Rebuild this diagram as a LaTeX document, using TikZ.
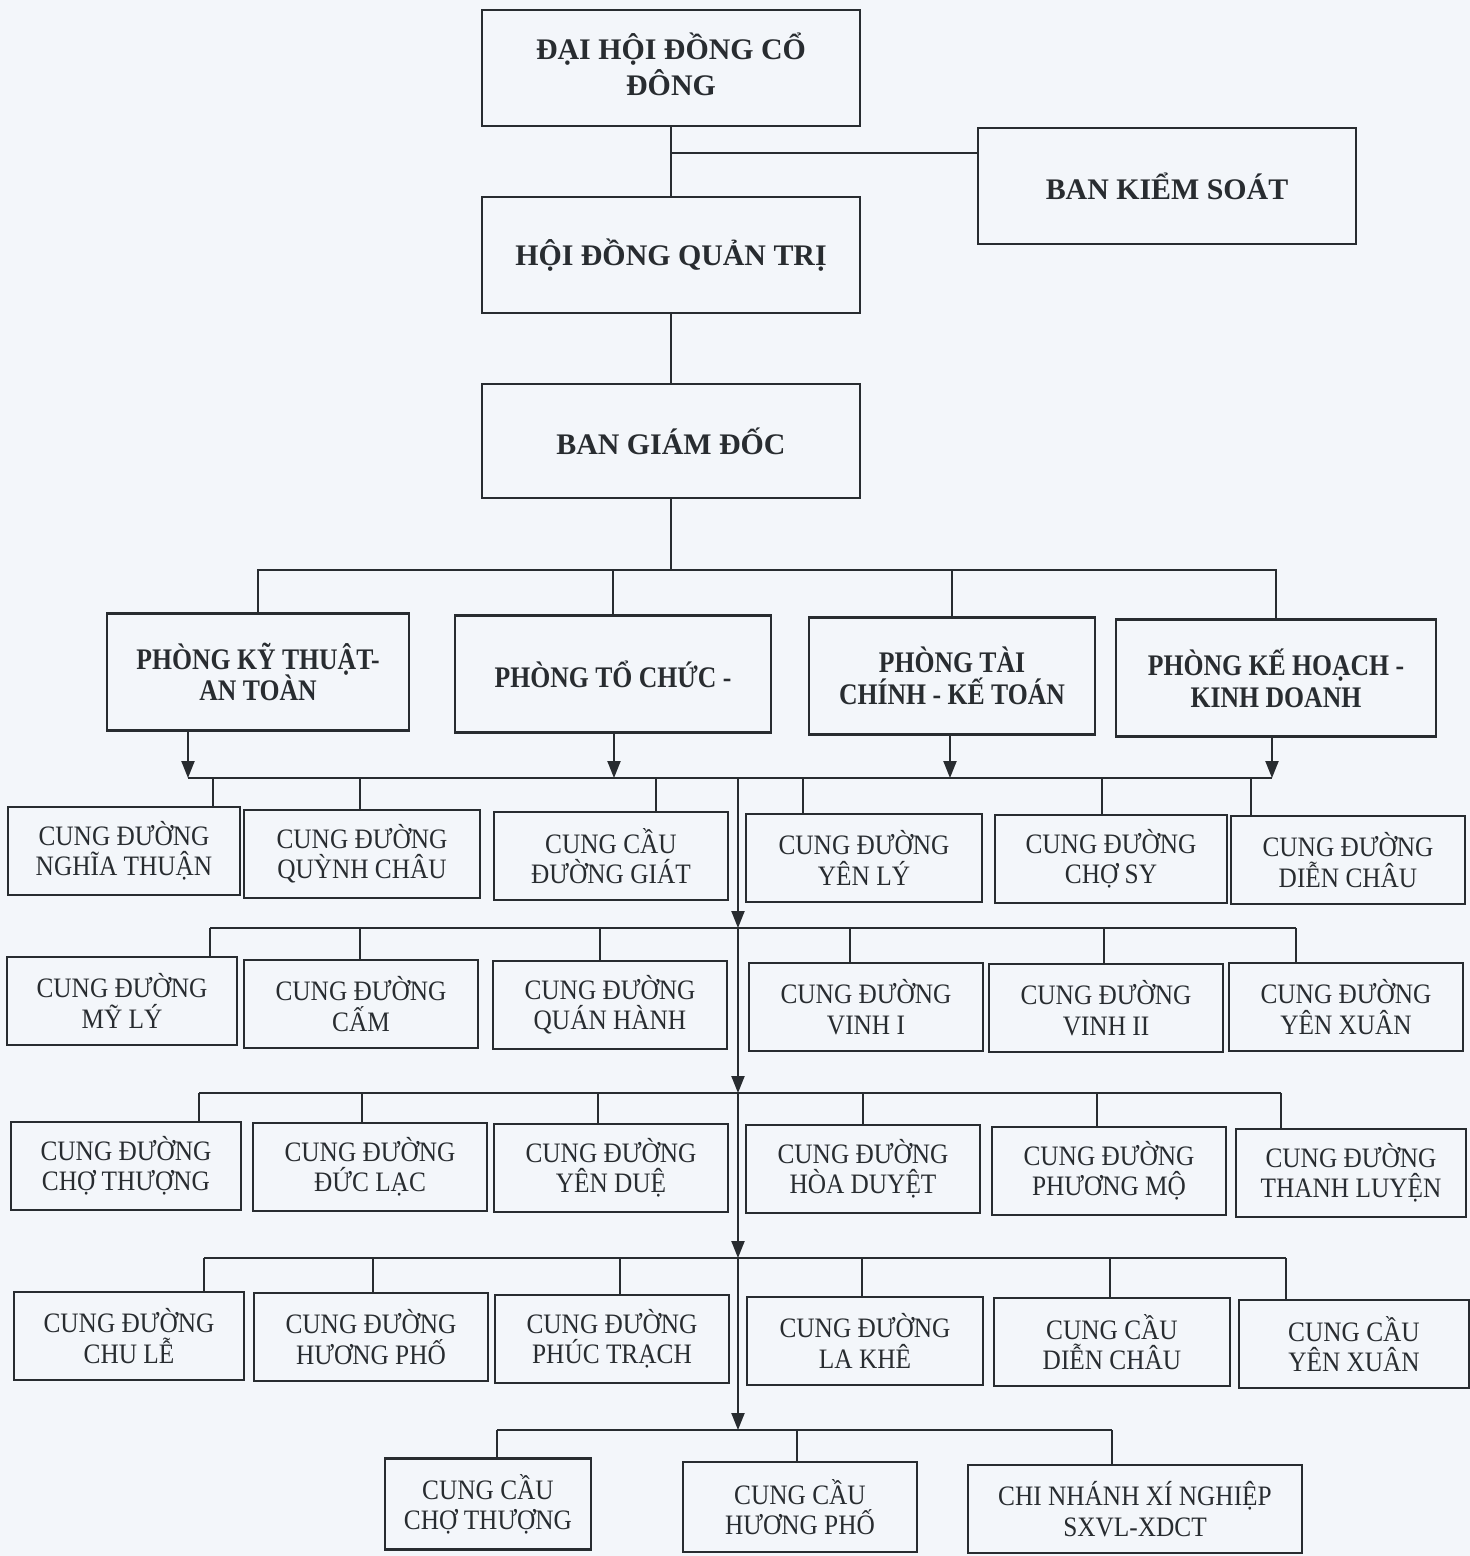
\documentclass[tikz,border=0pt]{standalone}
\usepackage{fontspec}
\setmainfont{Liberation Serif}
\newfontfamily\narrowfont{Liberation Serif}[FakeStretch=0.9]
\newfontfamily\deptfont{Liberation Serif}[FakeStretch=0.86]
\usetikzlibrary{arrows.meta}
\definecolor{paper}{RGB}{243,246,250}
\definecolor{ink}{RGB}{40,44,48}

\begin{document}
\begin{tikzpicture}[x=0.01cm, y=-0.01cm, line width=0.6pt, ink,
    topbox/.style={draw, align=center, minimum width=3.77cm, minimum height=1.16cm,
        font=\fontsize{8.5}{10.2}\selectfont\bfseries},
    deptbox/.style={draw, align=center, minimum height=1.17cm,
        font=\deptfont\fontsize{8.5}{9}\selectfont\bfseries},
    cellbox/.style={draw, align=center, minimum width=2.33cm, minimum height=0.88cm,
        font=\narrowfont\fontsize{8}{8.6}\selectfont},
    arr/.style={-{Triangle[length=1.7mm,width=1.3mm]}}]
        \useasboundingbox (0,0) rectangle (1470,1556);
        \fill[paper] (0,0) rectangle (1470,1556);

        % Top management
        \node[topbox] (dhdcd) at (671,68) {ĐẠI HỘI ĐỒNG CỔ\\ĐÔNG\\[-8pt]};
        \node[topbox, minimum width=3.78cm] (bks) at (1167,186) {BAN KIỂM SOÁT};
        \node[topbox] (hdqt) at (671,255) {HỘI ĐỒNG QUẢN TRỊ};
        \node[topbox, minimum height=1.14cm] (bgd) at (671,441) {BAN GIÁM ĐỐC};

        \coordinate (kj) at (671,153);
        \draw (dhdcd) -- (hdqt);
        \draw (kj) -- (kj -| bks.west);
        \draw (hdqt) -- (bgd);

        % Departments
        \node[deptbox, minimum width=3.02cm] (pkt) at (258,672) {PHÒNG KỸ THUẬT-\\AN TOÀN};
        \node[deptbox, minimum width=3.15cm] (ptc) at (613,674) {PHÒNG TỔ CHỨC -};
        \node[deptbox, minimum width=2.86cm] (ptckt) at (952,676) {PHÒNG TÀI\\CHÍNH - KẾ TOÁN};
        \node[deptbox, minimum width=3.19cm] (pkhkd) at (1276,678) {PHÒNG KẾ HOẠCH -\\KINH DOANH};

        \coordinate (pb) at (671,570);
        \draw (bgd) -- (pb);
        \foreach \n in {pkt,ptc,ptckt,pkhkd}
            \draw (pb) -| (\n.north);

        % Bus lines and spine
        \coordinate (bus1) at (738,778);
        \coordinate (bus2) at (738,928);
        \coordinate (bus3) at (738,1093);
        \coordinate (bus4) at (738,1258);
        \coordinate (bus5) at (738,1430);

        \foreach \n/\x in {pkt/188, ptc/614, ptckt/950, pkhkd/1272}
            \draw[arr] (\n.south -| \x,0) -- (bus1 -| \x,0);
        \draw (bus1 -| 188,0) -- (bus1 -| 1272,0);
        \draw[arr] (bus1) -- (bus2);
        \draw[arr] (bus2) -- (bus3);
        \draw[arr] (bus3) -- (bus4);
        \draw[arr] (bus4) -- (bus5);

        % Row 1
        \node[cellbox, minimum width=2.31cm] (r1a) at (124,851) {CUNG ĐƯỜNG\\NGHĨA THUẬN};
        \node[cellbox, minimum width=2.35cm] (r1b) at (362,854) {CUNG ĐƯỜNG\\QUỲNH CHÂU};
        \node[cellbox] (r1c) at (611,856) {CUNG CẦU\\ĐƯỜNG GIÁT};
        \node[cellbox, minimum width=2.35cm] (r1d) at (864,858) {CUNG ĐƯỜNG\\YÊN LÝ};
        \node[cellbox, minimum width=2.32cm] (r1e) at (1111,859) {CUNG ĐƯỜNG\\CHỢ SY};
        \node[cellbox] (r1f) at (1348,860) {CUNG ĐƯỜNG\\DIỄN CHÂU};
        \foreach \n/\x in {r1a/213, r1b/360, r1c/656, r1d/803, r1e/1102, r1f/1251}
            \draw (\n.north -| \x,0) -- (bus1 -| \x,0);

        % Row 2
        \node[cellbox, minimum width=2.30cm] (r2a) at (122,1001) {CUNG ĐƯỜNG\\MỸ LÝ};
        \node[cellbox, minimum width=2.34cm] (r2b) at (361,1004) {CUNG ĐƯỜNG\\CẤM};
        \node[cellbox, minimum width=2.34cm] (r2c) at (610,1005) {CUNG ĐƯỜNG\\QUÁN HÀNH};
        \node[cellbox, minimum width=2.34cm] (r2d) at (866,1007) {CUNG ĐƯỜNG\\VINH I};
        \node[cellbox, minimum width=2.34cm] (r2e) at (1106,1008) {CUNG ĐƯỜNG\\VINH II};
        \node[cellbox] (r2f) at (1346,1007) {CUNG ĐƯỜNG\\YÊN XUÂN};
        \draw (bus2 -| 210,0) -- (bus2 -| 1296,0);
        \foreach \n/\x in {r2a/210, r2b/360, r2c/600, r2d/850, r2e/1104, r2f/1296}
            \draw (\n.north -| \x,0) -- (bus2 -| \x,0);

        % Row 3
        \node[cellbox, minimum width=2.30cm] (r3a) at (126,1166) {CUNG ĐƯỜNG\\CHỢ THƯỢNG};
        \node[cellbox, minimum width=2.34cm] (r3b) at (370,1167) {CUNG ĐƯỜNG\\ĐỨC LẠC};
        \node[cellbox, minimum width=2.34cm] (r3c) at (611,1168) {CUNG ĐƯỜNG\\YÊN DUỆ};
        \node[cellbox, minimum width=2.34cm] (r3d) at (863,1169) {CUNG ĐƯỜNG\\HÒA DUYỆT};
        \node[cellbox, minimum width=2.34cm] (r3e) at (1109,1171) {CUNG ĐƯỜNG\\PHƯƠNG MỘ};
        \node[cellbox, minimum width=2.30cm] (r3f) at (1351,1173) {CUNG ĐƯỜNG\\THANH LUYỆN};
        \draw (bus3 -| 199,0) -- (bus3 -| 1281,0);
        \foreach \n/\x in {r3a/199, r3b/362, r3c/598, r3d/863, r3e/1097, r3f/1281}
            \draw (\n.north -| \x,0) -- (bus3 -| \x,0);

        % Row 4
        \node[cellbox, minimum width=2.30cm] (r4a) at (129,1336) {CUNG ĐƯỜNG\\CHU LỄ};
        \node[cellbox, minimum width=2.34cm] (r4b) at (371,1337) {CUNG ĐƯỜNG\\HƯƠNG PHỐ};
        \node[cellbox, minimum width=2.34cm] (r4c) at (612,1339) {CUNG ĐƯỜNG\\PHÚC TRẠCH};
        \node[cellbox, minimum width=2.35cm] (r4d) at (865,1341) {CUNG ĐƯỜNG\\LA KHÊ};
        \node[cellbox, minimum width=2.35cm] (r4e) at (1112,1342) {CUNG CẦU\\DIỄN CHÂU};
        \node[cellbox, minimum width=2.30cm] (r4f) at (1354,1344) {CUNG CẦU\\YÊN XUÂN};
        \draw (bus4 -| 204,0) -- (bus4 -| 1286,0);
        \foreach \n/\x in {r4a/204, r4b/373, r4c/620, r4d/862, r4e/1110, r4f/1286}
            \draw (\n.north -| \x,0) -- (bus4 -| \x,0);

        % Row 5
        \node[cellbox, minimum width=2.05cm, minimum height=0.91cm] (r5a) at (488,1504) {CUNG CẦU\\CHỢ THƯỢNG};
        \node[cellbox, minimum width=2.34cm, minimum height=0.90cm] (r5b) at (800,1507) {CUNG CẦU\\HƯƠNG PHỐ};
        \node[cellbox, minimum width=3.33cm, minimum height=0.88cm] (r5c) at (1135,1509) {CHI NHÁNH XÍ NGHIỆP\\SXVL-XDCT};
        \draw (bus5 -| 497,0) -- (bus5 -| 1112,0);
        \foreach \n/\x in {r5a/497, r5b/797, r5c/1112}
            \draw (\n.north -| \x,0) -- (bus5 -| \x,0);
    \end{tikzpicture}
\end{document}
